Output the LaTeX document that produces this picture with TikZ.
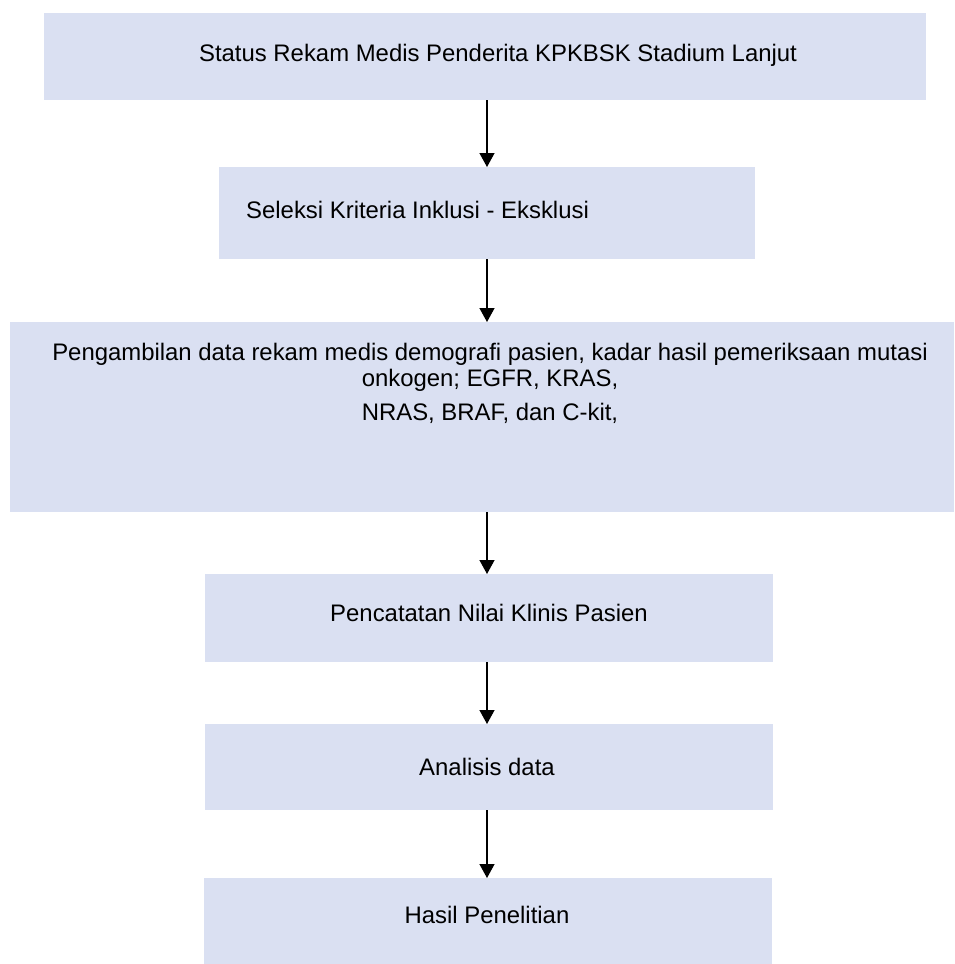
\documentclass[tikz,border=0pt]{standalone}
\usepackage{fontspec}
\setmainfont{Liberation Sans}
\usetikzlibrary{arrows.meta}
\definecolor{boxfill}{RGB}{218,224,242}
\begin{document}
\begin{tikzpicture}[x=1pt,y=-1pt,
  box/.style={fill=boxfill, draw=none, inner sep=0pt, anchor=north west},
  lbl/.style={font=\fontsize{23.9}{28}\selectfont, inner sep=0pt, text=black},
  flow/.style={-{Triangle[width=15pt,length=14pt]}, line width=1.3pt, black}]
\useasboundingbox (0,0) rectangle (954,964);
\node[box, minimum width=882pt, minimum height=87pt] (b1) at (44,13) {};
\node[box, minimum width=536pt, minimum height=92pt] (b2) at (219,167) {};
\node[box, minimum width=944pt, minimum height=190pt] (b3) at (10,322) {};
\node[box, minimum width=568pt, minimum height=88pt] (b4) at (205,574) {};
\node[box, minimum width=568pt, minimum height=86pt] (b5) at (205,724) {};
\node[box, minimum width=568pt, minimum height=86pt] (b6) at (204,878) {};
\node[lbl, anchor=base] (t1) at (498,61) {Status Rekam Medis Penderita KPKBSK Stadium Lanjut};
\node[lbl, anchor=base west] (t2) at (246,218.5) {Seleksi Kriteria Inklusi - Eksklusi};
\node[lbl, anchor=base] (t3a) at (490,360.5) {Pengambilan data rekam medis demografi pasien, kadar hasil pemeriksaan mutasi};
\node[lbl, anchor=base] (t3b) at (490,386.5) {onkogen; EGFR, KRAS,};
\node[lbl, anchor=base] (t3c) at (490,420.5) {NRAS, BRAF, dan C-kit,};
\node[lbl, anchor=base] (t4) at (489,621.5) {Pencatatan Nilai Klinis Pasien};
\node[lbl, anchor=base] (t5) at (487,775.5) {Analisis data};
\node[lbl, anchor=base] (t6) at (487,923.5) {Hasil Penelitian};
\coordinate (ax) at (487,0);
\draw[flow] (b1.south -| ax) -- (b2.north -| ax);
\draw[flow] (b2.south -| ax) -- (b3.north -| ax);
\draw[flow] (b3.south -| ax) -- (b4.north -| ax);
\draw[flow] (b4.south -| ax) -- (b5.north -| ax);
\draw[flow] (b5.south -| ax) -- (b6.north -| ax);
\end{tikzpicture}
\end{document}
